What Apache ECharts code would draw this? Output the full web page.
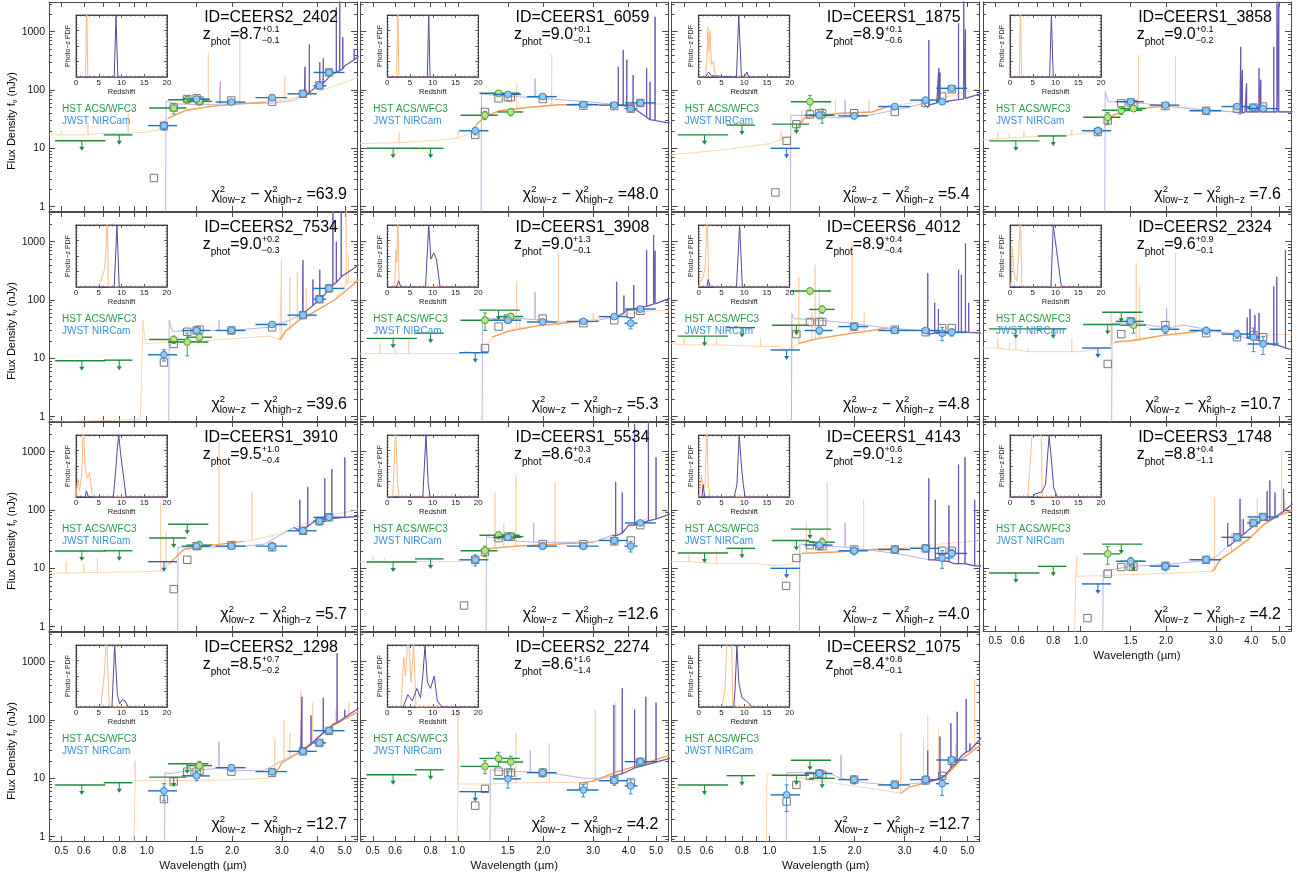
<!DOCTYPE html>
<html><head><meta charset="utf-8">
<script src="https://cdn.jsdelivr.net/npm/echarts@6/dist/echarts.min.js"></script>
<style>html,body{margin:0;padding:0;background:#fff}#c{width:1309px;height:877px}</style>
</head><body><div id="c"></div>
<script>
// ---------------- DATA ----------------
const ids = ['CEERS2_2402','CEERS1_6059','CEERS1_1875','CEERS1_3858','CEERS2_7534','CEERS1_3908','CEERS6_4012','CEERS2_2324','CEERS1_3910','CEERS1_5534','CEERS1_4143','CEERS3_1748','CEERS2_1298','CEERS2_2274','CEERS2_1075'];
const zphot  = [8.7,9.0,8.9,9.0,9.0,9.0,8.9,9.6,9.5,8.6,9.0,8.8,8.5,8.6,8.4];
const zErrUp = [0.1,0.1,0.1,0.1,0.2,1.3,0.4,0.9,1.0,0.3,0.6,0.4,0.7,1.6,0.8];
const zErrLo = [0.1,0.1,0.6,0.2,0.3,0.1,0.4,0.1,0.4,0.4,1.2,1.1,0.2,1.4,0.1];
const chi2Diff = [63.9,48.0,5.4,7.6,39.6,5.3,4.8,10.7,5.7,12.6,4.0,4.2,12.7,4.2,12.7];

// filters: 0 F606W,1 F814W,2 F105W,3 F125W,4 F140W,5 F160W,6 F115W,7 F150W,8 F200W,9 F277W,10 F356W,11 F410M,12 F444W
const filterCenter = [0.59,0.80,1.05,1.245,1.39,1.535,1.15,1.50,1.99,2.77,3.56,4.07,4.40];
const filterLo     = [0.475,0.705,0.93,1.02,1.19,1.38,1.01,1.33,1.75,2.42,3.14,3.87,3.88];
const filterHi     = [0.715,0.89,1.18,1.38,1.65,1.70,1.28,1.67,2.23,3.13,3.98,4.30,4.99];

const xTickLabels = [0.5,0.6,0.8,1.0,1.5,2.0,3.0,4.0,5.0];
const yTickLabels = [1,10,100,1000];
const pdfTickLabels = [0,5,10,15,20];

// [filter, flux nJy]
const hstLimits = [
 [[0,13.5],[1,17]], [[0,10],[1,10]], [[0,17],[1,25],[3,26]], [[0,13.4],[1,16.3]],
 [[0,9.1],[1,9.3]], [[0,22],[1,27],[4,67]], [[0,24],[1,33.6],[3,37]], [[0,32],[1,32],[3,38],[4,61.5]],
 [[0,19.8],[1,20],[3,33],[4,57]], [[0,12.8],[1,14.5]], [[0,18.3],[1,22],[3,30],[4,47]], [[0,8.3],[1,10.8],[4,26],[5,13.2]],
 [[0,7.7],[1,8.4],[3,10.5],[4,17.8]], [[0,11.5],[1,14]], [[0,7.7],[1,11.1],[3,11.3],[4,20.4],[5,10]]
];
// [filter, flux, err]
const hstDetections = [
 [[3,49,10],[4,68,9],[5,64,9]], [[3,37,6],[4,88,10],[5,42,6]], [[4,63,18],[5,37,10]], [[3,34,7],[4,45,7],[5,48,5]],
 [[3,21,3],[4,19,8],[5,23,3]], [[3,45,15],[5,52,7]], [[4,143,15],[5,69,10]], [[5,37,10]],
 [[5,25,4]], [[3,20,4],[4,37,5],[5,35,4]], [[5,28,5]], [[3,17.7,6]],
 [[5,16.5,3]], [[3,16,4],[4,22,6],[5,19,5]], []
];
const jwstLimits = [
 [], [], [[6,10]], [],
 [], [[6,12.5]], [[6,13.9]], [[6,15]],
 [[6,13]], [], [[6,10]], [[6,5.4]],
 [], [[6,5.9]], []
];
const jwstDetections = [
 [[6,24.5,4],[7,70,5],[8,62,4],[9,74,5],[10,86,6],[11,118,10],[12,200,10]],
 [[6,20,3],[7,84,6],[8,77,5],[9,56,4],[10,55,4],[11,48,4],[12,60,4]],
 [[7,37,5],[8,36,4],[9,52,4],[10,67,5],[11,63,6],[12,107,6]],
 [[6,20,3],[7,63,4],[8,55,3],[9,44,3],[10,52,4],[11,50,4],[12,48,3]],
 [[6,11.5,2.5],[7,30,2],[8,30,2],[9,38,3],[10,55,4],[11,103,12],[12,158,10]],
 [[7,45,5],[8,42,4],[9,43,3],[10,52,4],[11,40,8],[12,70,5]],
 [[7,30,4],[8,35,4],[9,30,3],[10,30,3],[11,27,7],[12,28,4]],
 [[7,43,5],[8,31.5,5],[9,30,4],[10,26,4],[11,23,10],[12,17.6,6]],
 [[7,24,3],[8,24,3],[9,24,4],[10,44,4],[11,64,8],[12,75,6]],
 [[6,14,3],[7,34,4],[8,24,3],[9,24,3],[10,30,4],[11,24,5],[12,60,5]],
 [[7,25,3],[8,20,3],[9,21,2],[10,22,3],[11,15,5],[12,18,3]],
 [[7,13.2,2],[8,10.9,1.8],[9,14,1.2],[10,34,3],[11,60,5],[12,76,5]],
 [[6,6.1,2],[7,11,2],[8,15.2,2],[9,13,1.5],[10,29,2.5],[11,40.5,3],[12,65.6,4]],
 [[7,9.8,3],[8,12.5,2],[9,6.3,1.5],[10,9.1,1.5],[11,7.4,2],[12,19.3,3]],
 [[6,5.2,2.5],[7,12.1,2],[8,9.5,1.5],[9,7.7,1],[10,9.5,1.5],[11,8.1,3],[12,20.6,2]]
];
// model photometry squares [lambda um, flux]
const modelPhot = [
 [[1.06,3.1],[1.15,24],[1.245,50],[1.39,70],[1.50,72],[1.535,66],[1.99,66],[2.77,63],[3.56,86],[4.07,120],[4.40,200]],
 [[1.15,17],[1.245,42],[1.39,72],[1.50,75],[1.535,75],[1.99,70],[2.77,54],[3.56,53],[4.07,48],[4.40,60]],
 [[1.05,1.75],[1.15,13.4],[1.245,26],[1.39,38],[1.50,40],[1.535,40],[1.99,40],[2.77,42],[3.56,60],[4.07,77],[4.40,103]],
 [[1.15,19],[1.245,30],[1.39,59],[1.50,61],[1.535,57],[1.99,53],[2.77,44],[3.56,48],[4.07,50],[4.40,52]],
 [[1.15,8.5],[1.245,17.6],[1.39,28.5],[1.50,30],[1.535,31],[1.99,30],[2.77,34],[3.56,55],[4.07,103],[4.40,158]],
 [[1.245,15],[1.39,35],[1.50,48],[1.99,48],[2.77,40],[3.56,45],[4.07,58],[4.40,65]],
 [[1.245,26],[1.39,42],[1.50,42],[1.535,42],[1.99,35],[2.77,31],[3.56,28],[4.07,33],[4.40,33]],
 [[1.245,8],[1.39,26],[1.50,43],[1.99,37],[2.77,27],[3.56,23],[4.07,25],[4.40,23]],
 [[1.245,4.4],[1.39,14],[1.50,24],[1.99,25],[2.77,23],[3.56,44],[4.07,64],[4.40,75]],
 [[1.05,2.3],[1.15,14],[1.245,19],[1.39,33],[1.50,35],[1.535,35],[1.99,26],[2.77,26],[3.56,29],[4.07,30],[4.40,55]],
 [[1.145,5],[1.245,15],[1.39,25],[1.50,24],[1.535,24],[1.99,21],[2.77,21],[3.56,22],[4.07,20],[4.40,20]],
 [[1.056,1.4],[1.245,8.1],[1.39,10.5],[1.50,10.7],[1.535,10.7],[1.99,11],[2.77,14],[3.56,34],[4.07,60],[4.40,76]],
 [[1.15,4.4],[1.245,8.8],[1.39,13],[1.50,13],[1.535,13.5],[1.99,13],[2.77,12.5],[3.56,29],[4.07,40.5],[4.40,65]],
 [[1.15,3.4],[1.245,6.6],[1.39,13],[1.50,12.5],[1.535,12.5],[1.99,12.5],[2.77,7.2],[3.56,9.4],[4.07,8.5],[4.40,19]],
 [[1.15,4.0],[1.245,7.7],[1.39,11],[1.50,12],[1.535,11.5],[1.99,9.5],[2.77,7.8],[3.56,9.2],[4.07,11],[4.40,20]]
];
// low-z SED continuum [lambda, flux] and emission lines [lambda, base, peak]
const lowzSed = [
 [[0.445,17],[0.68,18],[1.0,19],[1.16,22],[1.19,33],[1.38,45],[1.71,53],[2.13,58],[2.64,62],[3.2,70],[3.97,90],[4.54,115],[5.6,165]],
 [[0.445,12],[0.7,13],[0.89,14],[1.1,18],[1.16,25],[1.24,35],[1.4,44],[1.75,50],[2.29,56],[3.0,57],[3.94,56],[5.6,58]],
 [[0.445,7.7],[0.7,9.5],[1.0,12],[1.19,16],[1.25,22],[1.33,33],[1.45,36],[1.8,40],[2.3,42],[2.64,53],[3.46,63],[4.53,82],[5.6,110]],
 [[0.445,14],[1.0,18],[1.19,19],[1.22,24],[1.3,37],[1.5,46],[2.0,53],[2.6,48],[3.5,42],[5.6,42]],
 [[0.445,0.8],[0.95,0.9],[0.97,45],[0.99,18],[1.2,19],[1.6,20],[2.1,22],[2.7,24],[2.95,21],[3.1,30],[3.45,45],[4.0,67],[4.6,100],[5.6,220]],
 [[0.445,12],[1.0,12],[1.07,13],[1.18,12],[1.245,15],[1.32,23],[1.5,29],[1.97,37],[2.6,42],[3.4,50],[4.4,63],[5.6,67]],
 [[0.445,18],[1.0,16],[1.1,16],[1.15,12],[1.18,16],[1.27,18],[1.5,22],[1.97,27],[2.6,33],[3.4,30],[4.5,27],[5.6,27]],
 [[0.445,15],[1.0,13],[1.1,14],[1.245,16],[1.32,19],[1.5,20],[1.97,25],[2.6,29],[3.5,27],[4.5,25],[5.6,26]],
 [[0.445,8.2],[0.95,8.7],[1.1,9],[1.2,12],[1.35,21],[1.6,24],[2.2,29],[3.0,40],[3.5,55],[4.4,82],[5.6,100]],
 [[0.445,13],[1.0,13],[1.15,14],[1.25,18],[1.3,22],[1.6,24],[2.2,26],[3.0,28],[3.5,35],[4.0,50],[4.6,70],[5.6,100]],
 [[0.445,13],[0.9,12],[1.1,11],[1.2,12],[1.3,18],[1.7,19],[2.3,21],[3.0,22],[4.0,26],[5.6,30]],
 [[0.445,0.5],[0.95,0.5],[0.96,7.3],[1.2,7.5],[2.0,8.2],[2.9,8.9],[2.96,9.5],[3.1,14],[3.4,19],[3.9,31],[4.4,55],[5.0,80],[5.6,99]],
 [[0.445,0.5],[0.9,0.5],[0.91,20],[0.93,9.1],[1.2,9.1],[2.0,9.4],[2.7,10],[2.85,12],[3.0,18.5],[3.5,29],[4.0,49],[4.6,83],[5.6,140]],
 [[0.445,0.5],[0.99,0.5],[1.0,8],[1.3,8],[2.0,8.5],[2.8,8.5],[3.0,9],[3.5,12],[4.2,16],[5.6,25]],
 [[0.445,0.5],[0.975,0.5],[0.98,12],[1.25,10.4],[1.6,8.6],[2.1,7.1],[2.76,5.8],[2.91,5.5],[3.1,7],[3.62,8.6],[4.15,10.4],[4.75,21],[5.6,38]]
];
const lowzLines = [
 [[0.50,17,20],[0.62,17,28],[0.86,18,40],[1.12,21,30],[1.65,52,430],[2.13,58,1000],[3.07,68,170]],
 [[0.62,12.5,19],[1.0,15,20],[1.61,48,130],[2.14,55,400]],
 [[1.1,14,20],[1.3,28,45],[1.36,33,48],[1.71,40,67],[2.25,42,70]],
 [[0.51,14.5,19],[0.56,15,18],[0.63,15.5,20],[0.93,17,21],[1.6,50,400],[2.16,52,370]],
 [[2.99,21,480],[3.2,31,250],[3.4,42,300],[3.66,52,160],[5.06,190,5000],[5.15,200,600]],
 [[0.53,12,18],[0.6,12,14],[0.67,12,22],[1.61,32,205],[1.65,33,55],[2.26,38,630],[3.0,46,60]],
 [[0.5,17,22],[0.6,17,19],[0.65,17,23],[0.93,16,22],[1.2,15,40],[1.27,18,250],[1.41,21,59],[1.45,21,400],[1.5,22,160],[1.96,27,930],[2.16,28,60]],
 [[0.51,15,22],[0.56,14,18],[0.59,14,21],[0.65,13,15],[0.93,13,22],[1.28,17,60],[1.57,20,425],[1.61,20,170],[2.16,25,630]],
 [[0.52,8.3,13],[0.6,8.4,12],[0.67,8.5,15],[1.12,9,130],[1.17,10,40],[1.8,26,1500],[2.35,30,200]],
 [[0.5,13,16],[0.55,13,15],[1.35,22,200],[1.45,23,60],[1.6,24,400],[2.2,26,300]],
 [[0.52,13,17],[0.65,12,20],[1.35,18,60],[1.6,19,300],[2.15,20,150]],
 [[0.97,7.3,16],[2.97,9.5,166],[3.4,19,40],[3.7,25,70],[4.2,45,160],[5.12,85,1000],[5.25,90,150]],
 [[0.91,9.1,20],[2.83,11,50],[3.05,19,100],[3.2,22,60],[3.5,29,310],[3.85,42,200],[4.2,60,240],[4.67,85,170],[5.17,115,200]],
 [[1.0,8,330],[1.6,8.3,60],[2.1,8.5,40],[3.05,9,150],[3.6,13,200]],
 [[2.91,5.5,60],[3.5,8,50],[3.62,8.6,120],[3.95,9.5,70],[4.55,18,40],[5.3,32,500]]
];
// high-z SED continuum and emission lines
const highzSed = [
 [[1.165,0.3],[1.17,65],[1.25,58],[1.5,56],[1.8,56],[2.2,58],[2.8,60],[3.3,66],[3.6,85],[4.0,120],[4.5,190],[5.0,260],[5.6,380]],
 [[1.205,0.3],[1.21,85],[1.4,80],[1.75,75],[2.29,68],[3.0,62],[3.72,55],[4.27,45],[4.7,32],[5.6,27]],
 [[1.185,0.3],[1.19,37],[1.5,36],[1.76,33],[2.25,37],[2.96,48],[3.5,59],[3.62,50],[3.9,60],[4.5,67],[5.6,87]],
 [[1.215,0.3],[1.22,94],[1.25,63],[1.5,62],[2.0,53],[2.6,46],[3.5,42],[3.65,38],[3.8,42],[5.6,42]],
 [[1.195,0.3],[1.2,45],[1.23,29],[1.5,30],[1.95,30],[2.7,34],[3.2,45],[3.55,59],[4.0,95],[4.6,193],[5.6,400]],
 [[1.215,0.3],[1.22,52],[1.3,48],[1.65,48],[2.29,42],[2.96,42],[3.55,52],[3.95,67],[4.5,77],[5.6,107]],
 [[1.195,0.3],[1.2,59],[1.22,48],[1.5,45],[1.96,40],[2.6,33],[3.4,30],[3.62,25],[4.2,28],[5.6,27]],
 [[1.285,0.3],[1.29,40],[1.6,40],[2.29,37],[2.96,30],[3.5,25],[4.0,22],[5.6,14]],
 [[1.285,0.3],[1.29,23],[1.6,23],[2.2,24],[2.6,26],[3.3,50],[4.0,70],[5.6,78]],
 [[1.255,0.3],[1.26,35],[1.5,30],[2.2,28],[3.0,28],[3.5,37],[4.0,55],[5.6,85]],
 [[1.275,0.3],[1.28,26],[1.6,24],[2.2,21],[3.0,17],[3.7,14],[4.5,12],[5.6,11]],
 [[1.195,0.3],[1.2,8.9],[1.5,10.8],[2.0,11.6],[2.6,13.2],[2.96,15],[3.37,25],[3.9,45],[4.4,71],[5.6,128]],
 [[1.155,0.3],[1.16,12.5],[1.2,12],[1.4,13.5],[1.7,14.5],[2.0,13.5],[2.6,13.7],[3.0,20],[3.5,29],[4.0,49],[4.56,85],[5.6,160]],
 [[1.295,0.3],[1.3,14],[1.6,13],[2.2,12],[2.8,10],[3.2,10],[3.6,11],[4.2,15],[5.6,22]],
 [[1.145,0.3],[1.15,12.5],[1.6,12.5],[2.1,8.6],[2.76,7.5],[3.62,8.6],[4.15,11],[4.75,24],[5.6,50]]
];
const highzLines = [
 [[1.82,57,140],[3.62,84,250],[3.75,90,600],[4.08,120,300],[4.2,130,350],[4.67,200,2600],[4.8,215,5000],[4.92,230,800],[5.4,330,500]],
 [[1.87,74,158],[3.68,55,250],[3.83,54,485],[3.94,53,330],[4.15,48,180],[4.63,34,235],[4.76,31,139],[4.96,30,1800]],
 [[1.85,34,67],[3.65,55,720],[3.96,60,235],[4.0,61,200],[4.65,68,1400],[4.85,70,5000],[4.92,72,1100]],
 [[3.67,40,550],[3.72,40,220],[3.85,42,130],[4.26,42,235],[4.32,42,150],[4.8,42,550],[4.93,42,5000],[5.0,42,3000]],
 [[1.8,30,45],[3.56,59,480],[3.86,80,225],[4.08,100,330],[4.54,180,5000],[4.67,200,1000],[4.86,250,5000]],
 [[1.87,46,139],[3.63,52,205],[3.85,60,120],[4.17,70,180],[4.63,78,720],[4.9,85,1300],[4.96,86,700]],
 [[3.62,26,290],[3.83,27,90],[3.95,28,70],[4.65,28,330],[4.76,28,270],[4.92,28,935],[5.05,28,90]],
 [[2.01,33,72],[3.87,22,50],[3.96,22,70],[4.12,21,55],[4.26,20,60],[4.8,17,170],[4.92,17,250],[5.28,15,720]],
 [[3.47,45,150],[3.7,52,250],[4.25,70,350],[4.5,72,500],[5.0,75,800]],
 [[1.85,28,60],[3.6,36,300],[3.8,40,200],[4.2,55,3000],[4.7,65,5000],[5.0,70,800]],
 [[1.85,23,60],[3.65,14,350],[3.85,14,150],[4.3,13,120],[4.65,12,600],[4.9,12,800],[5.3,11,150]],
 [[3.3,24,60],[3.65,35,155],[3.75,38,70],[4.55,65,210],[4.65,68,320],[4.85,75,200],[5.2,95,230]],
 [[1.8,15,43],[3.53,29,250],[3.8,38,120],[4.2,60,240],[4.7,90,1390],[5.0,110,150]],
 [[1.8,13,30],[3.55,11,180],[3.8,12,350],[4.2,15,150],[4.6,17,250],[5.0,19,200]],
 [[1.79,10,25],[3.62,8.6,30],[4.0,10,52],[4.37,15,88],[4.6,19,138],[4.95,28,230],[5.1,30,40]]
];
// photo-z PDFs [z, normalised P]
const pdfLowz = [
 [[0,0],[2.1,0],[2.35,1.2],[2.6,0],[20,0]],
 [[0,0],[2.05,0],[2.3,1.2],[2.55,0],[20,0]],
 [[0,0],[1.5,0],[1.8,0.3],[2.0,0.8],[2.2,0.4],[2.5,0.75],[2.8,0.2],[3.2,0.25],[3.6,0.05],[4,0],[20,0]],
 [[0,0],[2.05,0],[2.3,1.2],[2.55,0],[20,0]],
 [[0,0],[4.8,0],[5.5,0.1],[6.3,0.3],[6.6,0.6],[6.9,1.2],[7.1,0],[20,0]],
 [[0,0],[1.6,0],[1.9,0.6],[2.1,0.4],[2.3,1.2],[2.6,0],[20,0]],
 [[0,0],[0.3,0.1],[0.8,0.12],[1.4,0.3],[1.9,1.2],[2.2,0.05],[3,0.02],[3.5,0],[20,0]],
 [[0,0],[0.3,0.1],[0.5,0.65],[0.8,0.3],[1.1,0.15],[1.5,0.1],[1.9,0.5],[2.3,1.2],[2.6,0],[20,0]],
 [[0,0],[0.4,0.3],[0.8,0.1],[1.3,0.4],[1.6,1.2],[2.0,0.5],[2.5,0.3],[3.0,0.4],[3.5,0.05],[4,0],[20,0]],
 [[0,0],[1.2,0],[1.5,0.5],[1.8,1.2],[2.2,0.3],[2.6,0],[20,0]],
 [[0,0],[0.3,0.1],[0.6,0.35],[0.9,0.1],[1.4,0.2],[1.8,1.2],[2.1,0.2],[2.5,0],[20,0]],
 [[0,0],[3.9,0],[4.5,0.6],[5.0,1.2],[6.8,1.2],[7.1,0],[20,0]],
 [[0,0],[5.5,0],[6.3,0.6],[6.7,1.2],[7.3,0],[20,0]],
 [[0,0],[3.0,0],[3.6,0.8],[4.0,0.5],[4.6,1.2],[5.2,0.4],[5.8,1.0],[6.3,0],[20,0]],
 [[0,0],[5.1,0],[5.8,0.3],[6.3,1.2],[7.2,1.2],[7.5,0],[20,0]]
];
const pdfHighz = [
 [[0,0],[8.4,0],[8.8,0.98],[9.2,0],[20,0]],
 [[0,0],[8.8,0],[9.1,1.0],[9.4,0],[20,0]],
 [[0,0],[1.5,0],[2.2,0.08],[2.8,0.02],[8.3,0],[8.8,1.0],[9.4,0],[10.2,0.02],[10.6,0.08],[11,0],[20,0]],
 [[0,0],[8.7,0],[9.1,0.98],[9.5,0],[20,0]],
 [[0,0],[8.4,0],[9.0,1.0],[9.5,0],[20,0]],
 [[0,0],[2.0,0],[2.5,0.1],[3,0],[8.4,0],[9.1,1.0],[9.6,0.45],[10.2,0.55],[10.8,0.45],[11.6,0],[20,0]],
 [[0,0],[1.8,0],[2.1,0.12],[2.5,0],[8.3,0],[9.0,1.0],[9.6,0],[20,0]],
 [[0,0],[9.0,0],[9.5,1.0],[10.4,0.5],[11.2,0.05],[11.6,0],[20,0]],
 [[0,0],[2.0,0],[2.3,0.1],[2.7,0],[8.2,0],[8.7,0.4],[9.1,0.8],[9.4,1.0],[9.8,0.7],[10.5,0.3],[11,0],[20,0]],
 [[0,0],[7.8,0],[8.5,1.0],[9.0,0.2],[9.4,0],[20,0]],
 [[0,0],[0.7,0],[1.0,0.2],[1.3,0],[7.8,0],[8.4,0.2],[8.9,1.0],[9.4,0.5],[9.8,0.2],[10.2,0],[20,0]],
 [[0,0],[5,0],[5.5,0.05],[7.0,0.08],[7.8,0.2],[8.3,0.7],[8.6,0.98],[9.1,0.6],[9.6,0.15],[10.4,0],[20,0]],
 [[0,0],[7.9,0],[8.5,1.0],[9.1,0.2],[9.6,0.05],[10.2,0.12],[10.8,0.1],[11.5,0],[20,0]],
 [[0,0],[3.5,0],[4.5,0.2],[5.5,0.1],[6.5,0.3],[7.3,0.15],[7.8,0.5],[8.3,1.0],[8.8,0.4],[9.5,0.3],[10.3,0.5],[11,0.1],[12,0],[20,0]],
 [[0,0],[7.7,0],[8.0,0.3],[8.4,1.0],[8.8,0.4],[9.5,0.15],[10.5,0.1],[11.8,0],[20,0]]
];

// ---------------- STYLE / LAYOUT ----------------
const lowDarkRange  = [[1.17,2.8],[1.15,3.5],[1.2,3.0],[1.2,2.5],[2.9,5.6],[1.25,3.0],[1.2,3.0],[1.25,3.0],[1.2,2.8],[1.25,3.0],[1.25,3.2],[2.9,5.6],[2.8,5.6],[2.8,5.6],[2.8,5.6]];
const highDarkRange = [[3.4,5.6],[3.6,5.6],[3.5,5.6],[3.6,5.6],[3.5,5.6],[3.5,5.6],[3.5,5.6],[3.8,5.6],[3.3,5.6],[3.4,5.6],[3.5,5.6],[3.3,5.6],[3.4,5.6],[3.4,5.6],[3.5,5.6]];

const FF = '"Liberation Sans", Arial, Helvetica, sans-serif';
const colLeft = [49, 360.3, 671.7, 983];
const rowTop = [2, 212, 422, 632];
const PW = 308, PH = 209;
const XMIN = -0.345, XMAX = XMIN + PW / 283.3;
const YMIN = -0.075, YMAX = 3.509;
const lg = Math.log10;

const C = {
  lowLight:'#fdcfa6', lowDark:'#f6a054', highLight:'#b4abdb', highDark:'#6a57b2',
  hstBar:'#1e8a3b', hstErr:'#43a24f', hstFill:'#c3e27c', hstEdge:'#45a64a',
  jwBar:'#1f6fc0', jwErr:'#3d8ad0', jwFill:'#93c9ef', jwEdge:'#3a84c9',
  frame:'#4a4a4a'
};

const mctx = document.createElement('canvas').getContext('2d');
function tw(t, s){ mctx.font = s + 'px ' + FF; return mctx.measureText(t).width; }

const grid=[], xAxis=[], yAxis=[], series=[], graphic=[];

function addRuns(parts, x0, yc, alignRight, color){
  let cur=0, prevStart=0, prevW=0; const placed=[];
  parts.forEach(p=>{
    const w = tw(p.t, p.s); let sx;
    if (p.stack){ sx = prevStart; cur = prevStart + Math.max(prevW, w); }
    else { sx = cur; cur += w; }
    prevStart = sx; prevW = w; placed.push([sx,p]);
  });
  const off = alignRight ? x0 - cur : x0;
  placed.forEach(([sx,p])=>{
    graphic.push({type:'text', x: off+sx, y: yc+(p.dy||0), z:100, silent:true,
      style:{text:p.t, fontSize:p.s, fontFamily:FF, fill:color||'#000', align:'left', verticalAlign:'middle', textAlign:'left', textVerticalAlign:'middle'}});
  });
}

function mergeSpec(cont, lines){
  const pts = cont.map(p=>[p[0],p[1]]);
  lines.forEach(l=>{ pts.push([l[0]-1e-4,l[1]],[l[0],l[2]],[l[0]+1e-4,l[1]]); });
  pts.sort((a,b)=>a[0]-b[0]);
  return pts;
}
const toLog = pts => pts.map(p=>[lg(p[0]), lg(p[1])]);

function renderPhot(params, api){
  const kind = api.value(6), inst = api.value(7);
  const c = api.coord([api.value(0), api.value(1)]);
  if (kind === 2){
    return {type:'rect', shape:{x:c[0]-3.7,y:c[1]-3.7,width:7.4,height:7.4}, style:{fill:'rgba(255,255,255,0)', stroke:'#777', lineWidth:1}};
  }
  const lo = api.coord([api.value(2), api.value(1)]);
  const hi = api.coord([api.value(3), api.value(1)]);
  const bar = inst===0 ? C.hstBar : C.jwBar;
  const ch = [{type:'line', shape:{x1:lo[0],y1:c[1],x2:hi[0],y2:c[1]}, style:{stroke:bar, lineWidth:1.4}}];
  if (kind === 1){
    ch.push({type:'line', shape:{x1:c[0],y1:c[1],x2:c[0],y2:c[1]+8}, style:{stroke:bar, lineWidth:1}});
    ch.push({type:'polygon', shape:{points:[[c[0]-2.6,c[1]+6],[c[0]+2.6,c[1]+6],[c[0],c[1]+10]]}, style:{fill:bar}});
  } else {
    const e1 = api.coord([api.value(0), api.value(4)]), e2 = api.coord([api.value(0), api.value(5)]);
    const ec = inst===0 ? C.hstErr : C.jwErr;
    ch.push({type:'line', shape:{x1:c[0],y1:e1[1],x2:c[0],y2:e2[1]}, style:{stroke:ec, lineWidth:1}});
    ch.push({type:'line', shape:{x1:c[0]-2,y1:e1[1],x2:c[0]+2,y2:e1[1]}, style:{stroke:ec, lineWidth:1}});
    ch.push({type:'line', shape:{x1:c[0]-2,y1:e2[1],x2:c[0]+2,y2:e2[1]}, style:{stroke:ec, lineWidth:1}});
    ch.push({type:'circle', shape:{cx:c[0],cy:c[1],r:3.4}, style:{fill: inst===0?C.hstFill:C.jwFill, stroke: inst===0?C.hstEdge:C.jwEdge, lineWidth:1}});
  }
  return {type:'group', children:ch};
}

const yMajor = yTickLabels.map(lg);
const yMinor = [];
for (let d=-1; d<=3; d++) for (let k=2;k<=9;k++){ const v=d+lg(k); if (v>YMIN && v<YMAX) yMinor.push(v); }
const xTickPos = xTickLabels.map(lg).concat([lg(0.7), lg(0.9)]);

for (let p=0; p<15; p++){
  const col = p%4, row = Math.floor(p/4);
  const L = colLeft[col], T = rowTop[row];
  const showX = row===3 || p===11;
  const frame = {show:true, onZero:false, lineStyle:{color:C.frame, width:1}};
  const noLine = {show:false, onZero:false};
  const tickSt = {color:C.frame, width:1};
  // main grid
  const gi = grid.length;
  grid.push({left:L, top:T, width:PW, height:PH, show:false});
  const xi = xAxis.length;
  xAxis.push({gridIndex:gi, type:'value', min:XMIN, max:XMAX, position:'bottom', axisLine:frame,
    axisTick:{show:true, inside:true, length:5, customValues:xTickPos, lineStyle:tickSt},
    axisLabel:{show:showX, customValues:xTickLabels.map(lg), formatter:v=>Math.pow(10,v).toFixed(1), fontSize:10, color:'#111', margin:5, fontFamily:FF},
    splitLine:{show:false}, name: showX ? 'Wavelength (\u00b5m)' : '', nameLocation:'middle', nameGap:19,
    nameTextStyle:{fontSize:11.5, color:'#111', fontFamily:FF}});
  xAxis.push({gridIndex:gi, type:'value', min:XMIN, max:XMAX, position:'top', axisLine:frame,
    axisTick:{show:true, inside:true, length:5, customValues:xTickPos, lineStyle:tickSt}, axisLabel:{show:false}, splitLine:{show:false}});
  const yi = yAxis.length;
  ['left','right'].forEach(pos=>{
    yAxis.push({gridIndex:gi, type:'value', min:YMIN, max:YMAX, position:pos, axisLine:frame,
      axisTick:{show:true, inside:true, length:6, customValues:yMajor, lineStyle:tickSt},
      axisLabel:{show: pos==='left' && col===0, customValues:yMajor, formatter:v=>String(Math.round(Math.pow(10,v))), fontSize:10.5, color:'#111', margin:4, fontFamily:FF},
      splitLine:{show:false}});
    yAxis.push({gridIndex:gi, type:'value', min:YMIN, max:YMAX, position:pos, axisLine:noLine,
      axisTick:{show:true, inside:true, length:3, customValues:yMinor, lineStyle:tickSt}, axisLabel:{show:false}, splitLine:{show:false}});
  });

  // spectra
  const lowPts = mergeSpec(lowzSed[p], lowzLines[p]);
  const highPts = mergeSpec(highzSed[p], highzLines[p]);
  const base = {type:'line', xAxisIndex:xi, yAxisIndex:yi, showSymbol:false, symbol:'none', silent:true, animation:false, clip:true, z:2};
  series.push(Object.assign({}, base, {data:toLog(lowPts), lineStyle:{color:C.lowLight, width:0.9}}));
  const ld = lowDarkRange[p];
  series.push(Object.assign({}, base, {data:toLog(lowzSed[p].filter(q=>q[0]>=ld[0]&&q[0]<=ld[1])), lineStyle:{color:C.lowDark, width:1.4}}));
  series.push(Object.assign({}, base, {data:toLog(highPts), lineStyle:{color:C.highLight, width:0.9}}));
  const hd = highDarkRange[p];
  series.push(Object.assign({}, base, {data:toLog(highPts.filter(q=>q[0]>=hd[0]&&q[0]<=hd[1])), lineStyle:{color:C.highDark, width:1.2}}));

  // photometry
  const items = [];
  modelPhot[p].forEach(m=>items.push([lg(m[0]),lg(m[1]),0,0,0,0,2,2]));
  const add = (arr, inst, kind)=>arr.forEach(d=>{
    const fi=d[0], f=d[1], e=d[2]||0;
    items.push([lg(filterCenter[fi]), lg(f), lg(filterLo[fi]), lg(filterHi[fi]), lg(Math.max(f-e, f*0.05)), lg(f+e), kind, inst]);
  });
  add(hstLimits[p],0,1); add(jwstLimits[p],1,1); add(hstDetections[p],0,0); add(jwstDetections[p],1,0);
  series.push({type:'custom', xAxisIndex:xi, yAxisIndex:yi, renderItem:renderPhot, data:items, encode:{x:0,y:1}, silent:true, animation:false, z:3, clip:true});

  // inset
  const ig = grid.length;
  grid.push({left:L+27, top:T+13, width:91, height:62, show:true, backgroundColor:'#fff', borderColor:'#333', borderWidth:0.8, z:5});
  const il = {show:true, onZero:false, lineStyle:{color:'#333', width:0.8}};
  const itk = {show:true, inside:true, length:3, lineStyle:{color:'#333', width:0.8}};
  const imt = {show:true, splitNumber:5, length:1.5, lineStyle:{color:'#333', width:0.6}};
  const ix = xAxis.length;
  xAxis.push({gridIndex:ig, type:'value', min:0, max:20, interval:5, position:'bottom', axisLine:il, axisTick:itk, minorTick:imt,
    axisLabel:{fontSize:8, margin:2, color:'#222', fontFamily:FF, customValues:pdfTickLabels}, splitLine:{show:false}, minorSplitLine:{show:false},
    name:'Redshift', nameLocation:'middle', nameGap:11, nameTextStyle:{fontSize:7.5, color:'#222', fontFamily:FF}, z:6});
  xAxis.push({gridIndex:ig, type:'value', min:0, max:20, interval:5, position:'top', axisLine:il, axisTick:itk, minorTick:imt,
    axisLabel:{show:false}, splitLine:{show:false}, minorSplitLine:{show:false}, z:6});
  const iy = yAxis.length;
  yAxis.push({gridIndex:ig, type:'value', min:0, max:1, interval:0.25, position:'left', axisLine:il, axisTick:itk, minorTick:imt,
    axisLabel:{show:false}, splitLine:{show:false}, minorSplitLine:{show:false},
    name:'Photo\u2212z PDF', nameLocation:'middle', nameGap:4, nameTextStyle:{fontSize:7, color:'#222', fontFamily:FF}, z:6});
  yAxis.push({gridIndex:ig, type:'value', min:0, max:1, interval:0.25, position:'right', axisLine:il, axisTick:itk, minorTick:imt,
    axisLabel:{show:false}, splitLine:{show:false}, minorSplitLine:{show:false}, z:6});
  const ib = {type:'line', xAxisIndex:ix, yAxisIndex:iy, showSymbol:false, symbol:'none', silent:true, animation:false, clip:true, z:7};
  series.push(Object.assign({}, ib, {data:pdfLowz[p], lineStyle:{color:'#fdb986', width:1}}));
  series.push(Object.assign({}, ib, {data:pdfHighz[p], lineStyle:{color:'#56479e', width:1}}));

  // texts
  addRuns([{t:'ID='+ids[p], s:16}], L+PW-19, T+15.5, true);
  addRuns([{t:'z',s:16},{t:'phot',s:10,dy:7.5},{t:'='+zphot[p].toFixed(1),s:16},
           {t:'+'+zErrUp[p].toFixed(1),s:9,dy:-4.5},{t:'\u2212'+zErrLo[p].toFixed(1),s:9,dy:5.8,stack:true}], L+153.7, T+32.5, false);
  addRuns([{t:'\u03c7',s:16},{t:'2',s:9.5,dy:-4.5},{t:'low\u2212z',s:10,dy:5.7,stack:true},{t:' \u2212 ',s:16},
           {t:'\u03c7',s:16},{t:'2',s:9.5,dy:-4.5},{t:'high\u2212z',s:10,dy:5.7,stack:true},{t:' ='+chi2Diff[p].toFixed(1),s:16}],
          L+PW-10, T+192.3, true);
  addRuns([{t:'HST ACS/WFC3', s:10}], L+13, T+106.8, false, '#2a9a48');
  addRuns([{t:'JWST NIRCam', s:10}], L+13, T+119, false, '#3b8fd8');
  if (col===0){
    graphic.push({type:'text', x:11.5, y:T+119, rotation:Math.PI/2, z:100, silent:true,
      style:{text:'{a|Flux Density f}{s|\u03bd}{a| (nJy)}', fontSize:11, fontFamily:FF, fill:'#000', align:'center', verticalAlign:'middle', textAlign:'center', textVerticalAlign:'middle',
        rich:{a:{fontSize:11, fontFamily:FF, lineHeight:14}, s:{fontSize:7.5, fontFamily:FF, lineHeight:8, verticalAlign:'bottom'}}}});
  }
}

const chart = echarts.init(document.getElementById('c'), null, {renderer:'canvas'});
chart.setOption({animation:false, backgroundColor:'#fff', grid, xAxis, yAxis, series, graphic});
</script></body></html>
